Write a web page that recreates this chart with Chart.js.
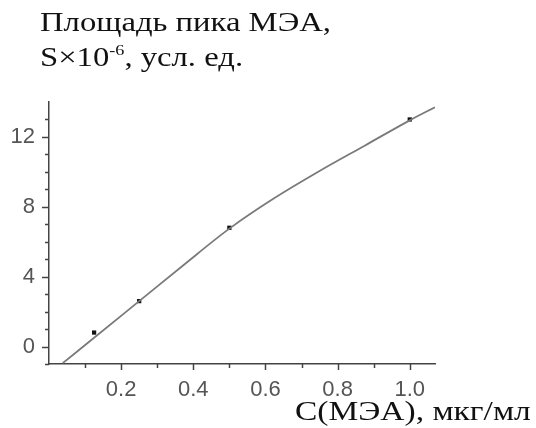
<!DOCTYPE html>
<html>
<head>
<meta charset="utf-8">
<script src="https://cdn.jsdelivr.net/npm/chart.js@4/dist/chart.umd.min.js"></script>
<style>
	body { margin: 0; background: #fff; }
	#wrap { position: relative; width: 536px; height: 428px; overflow: hidden; }
	.ttl { position: absolute; font-family: "Liberation Serif", serif; font-size: 27px; line-height: 35px; color: #111; white-space: nowrap; transform-origin: 0 0; }
	.ttl .sup { font-size: 15px; position: relative; top: -11px; }
</style>
</head>
<body>
<div id="wrap">
	<canvas id="peakChart" width="536" height="428"></canvas>
	<div class="ttl" style="left: 40px; top: 5px; transform: scaleX(1.21);">Площадь пика МЭА,<br>S×10<span class="sup">-6</span>, усл. ед.</div>
	<div class="ttl" style="left: 295px; top: 394px; transform: scaleX(1.24);">C(МЭА), мкг/мл</div>
</div>
<script>
// measured points
const concX = [0.125, 0.25, 0.5, 1.0];
const areaY = [0.8, 2.6, 6.8, 13.0];

// calibration curve
const curveX = [0.038, 0.125, 0.25, 0.375, 0.5, 0.625, 0.75, 0.875, 1.0, 1.07];
const curveY = [-0.95, 0.5, 2.6, 4.7, 6.75, 8.5, 10.05, 11.5, 12.95, 13.7];

const xLabels = [0.2, 0.4, 0.6, 0.8, 1.0];
const yLabels = [0, 4, 8, 12];

document.addEventListener("DOMContentLoaded", function () {
	const axisColor = "#444";

	// ticks: long ones at labels, short ones between
	const tickMarks = {
		id: "tickMarks",
		afterDraw(chart) {
			const c = chart.ctx;
			const xs = chart.scales.x;
			const ys = chart.scales.y;
			c.save();
			c.strokeStyle = axisColor;
			c.lineWidth = 1.5;
			c.beginPath();
			for (let i = 1; i <= 10; i++) {
				const px = Math.round(xs.getPixelForValue(i / 10)) + 0.5;
				const len = i % 2 === 0 ? 6 : 4;
				c.moveTo(px, ys.bottom);
				c.lineTo(px, ys.bottom + len);
			}
			for (let v = -1; v <= 13; v++) {
				const py = Math.round(ys.getPixelForValue(v)) + 0.5;
				const len = yLabels.includes(v) ? 7 : 4;
				c.moveTo(xs.left, py);
				c.lineTo(xs.left - len, py);
			}
			c.stroke();
			c.restore();
		},
	};

	new Chart(document.getElementById("peakChart"), {
		type: "scatter",
		data: {
			datasets: [
				{
					label: "curve",
					data: curveX.map((x, i) => ({ x: x, y: curveY[i] })),
					showLine: true,
					borderColor: "#7a7a7a",
					borderWidth: 1.8,
					pointRadius: 0,
					cubicInterpolationMode: "monotone",
				},
				{
					label: "points",
					data: concX.map((x, i) => ({ x: x, y: areaY[i] })),
					pointStyle: "rect",
					pointRadius: 3,
					backgroundColor: "#111",
					borderColor: "#111",
					borderWidth: 0,
				},
			],
		},
		options: {
			responsive: false,
			animation: false,
			layout: { padding: { top: 102, right: 101, left: 0, bottom: 0 } },
			plugins: { legend: { display: false }, tooltip: { enabled: false } },
			scales: {
				x: {
					type: "linear",
					min: 0,
					max: 1.07,
					grid: { display: false, drawTicks: false },
					border: { display: true, color: axisColor, width: 1.5 },
					afterBuildTicks: (s) => { s.ticks = xLabels.map((v) => ({ value: v })); },
					afterFit: (s) => { s.height = 64; },
					ticks: {
						padding: 13,
						color: "#555",
						font: { family: "Liberation Sans", size: 22 },
						callback: (v) => v.toFixed(1),
					},
				},
				y: {
					type: "linear",
					min: -1,
					max: 14,
					grid: { display: false, drawTicks: false },
					border: { display: true, color: axisColor, width: 1.5 },
					afterBuildTicks: (s) => { s.ticks = yLabels.map((v) => ({ value: v })); },
					afterFit: (s) => { s.width = 49; },
					ticks: {
						padding: 14,
						color: "#555",
						font: { family: "Liberation Sans", size: 22 },
					},
				},
			},
		},
		plugins: [tickMarks],
	});
});
</script>
</body>
</html>
